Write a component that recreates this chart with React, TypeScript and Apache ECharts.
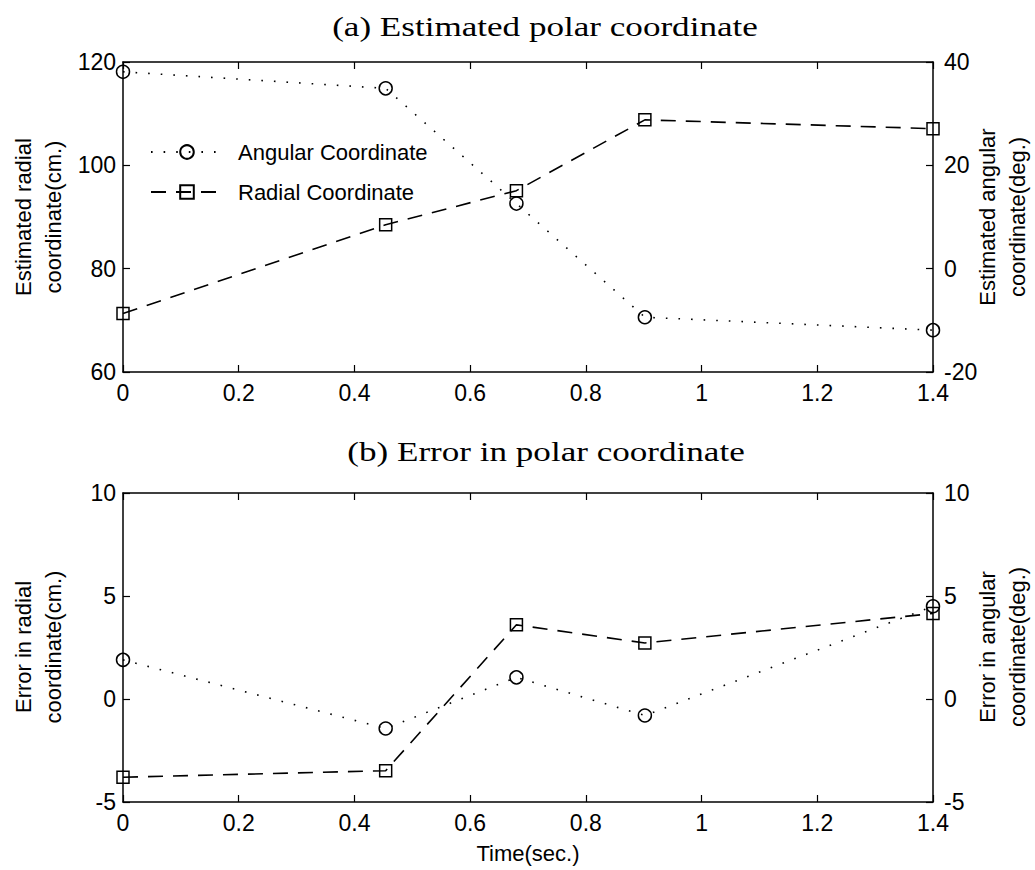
import React, { useEffect, useRef } from "react";
import * as echarts from "echarts";

const times = [0, 0.454, 0.68, 0.902, 1.4];
const radialEst = [71.3, 88.5, 95.1, 108.8, 107.1];
const angularEst = [38.1, 34.9, 12.6, -9.4, -11.9];
const radialErr = [-3.8, -3.48, 3.6, 2.72, 4.15];
const angularErr = [1.9, -1.43, 1.05, -0.8, 4.5];

const xTicks = { min: 0, max: 1.4, interval: 0.2 };
const topLeftTicks = { min: 60, max: 120, interval: 20 };
const topRightTicks = { min: -20, max: 40, interval: 20 };
const botLeftTicks = { min: -5, max: 10, interval: 5 };
const botRightTicks = { min: -5, max: 10, interval: 5 };

const titleA = "(a) Estimated polar coordinate";
const titleB = "(b) Error in polar coordinate";
const seriesNames = ["Angular Coordinate", "Radial Coordinate"];

const SANS = "Liberation Sans, Arial, Helvetica, sans-serif";
const SERIF = "Liberation Serif, Times New Roman, serif";

const pairs = (vals: number[]) => times.map((t, i) => [t, vals[i]]);

const axisLine = { show: true, onZero: false, lineStyle: { color: "#000", width: 1.5 } };
const tick = { show: true, inside: true, length: 7, lineStyle: { color: "#000", width: 1.2 } };
const label = (margin: number) => ({ color: "#000", fontSize: 23, fontFamily: SANS, margin });

function xAxisPair(grid: number) {
  return [
    {
      type: "value", gridIndex: grid, position: "bottom", ...xTicks,
      axisLine, axisTick: tick, axisLabel: label(9), splitLine: { show: false },
    },
    {
      type: "value", gridIndex: grid, position: "top", ...xTicks,
      axisLine, axisTick: tick, axisLabel: { show: false }, splitLine: { show: false },
    },
  ];
}

function yAxisPair(grid: number, l: any, r: any) {
  return [
    {
      type: "value", gridIndex: grid, position: "left", ...l,
      axisLine, axisTick: tick, axisLabel: label(7), splitLine: { show: false },
    },
    {
      type: "value", gridIndex: grid, position: "right", ...r,
      axisLine, axisTick: tick, axisLabel: label(11), splitLine: { show: false },
    },
  ];
}

const angStyle = {
  symbol: "circle",
  symbolSize: 13,
  itemStyle: { color: "rgba(255,255,255,0)", borderColor: "#000", borderWidth: 1.5 },
  lineStyle: { color: "#000", width: 1.6, type: [1.6, 11] },
};
const radStyle = {
  symbol: "rect",
  symbolSize: 12,
  itemStyle: { color: "rgba(255,255,255,0)", borderColor: "#000", borderWidth: 1.5 },
  lineStyle: { color: "#000", width: 1.6, type: [15, 10] },
};

export default function App() {
  const ref = useRef<HTMLDivElement>(null);
  useEffect(() => {
    if (!ref.current) return;
    const chart = echarts.init(ref.current, undefined, { renderer: "svg" });
    const option: any = {
      animation: false,
      backgroundColor: "#fff",
      grid: [
        { left: 123, top: 62, width: 810, height: 310 },
        { left: 123, top: 493, width: 810, height: 309 },
      ],
      legend: {
        data: seriesNames,
        orient: "vertical",
        left: 145,
        top: 133,
        itemWidth: 72,
        itemHeight: 17,
        itemGap: 12,
        textStyle: { color: "#000", fontSize: 22, fontFamily: SANS, lineHeight: 28, padding: [0, 0, 0, 10] },
      },
      xAxis: [...xAxisPair(0), ...xAxisPair(1)],
      yAxis: [
        ...yAxisPair(0, topLeftTicks, topRightTicks),
        ...yAxisPair(1, botLeftTicks, botRightTicks),
      ],
      series: [
        { name: seriesNames[0], type: "line", xAxisIndex: 0, yAxisIndex: 1, data: pairs(angularEst), ...angStyle },
        { name: seriesNames[1], type: "line", xAxisIndex: 0, yAxisIndex: 0, data: pairs(radialEst), ...radStyle },
        { name: seriesNames[0], type: "line", xAxisIndex: 2, yAxisIndex: 3, data: pairs(angularErr), ...angStyle },
        { name: seriesNames[1], type: "line", xAxisIndex: 2, yAxisIndex: 2, data: pairs(radialErr), ...radStyle },
      ],
      graphic: [
        {
          type: "text", x: 545, y: 27, scaleX: 1.3,
          style: { text: titleA, font: `27px ${SERIF}`, fill: "#000", align: "center", verticalAlign: "middle" },
        },
        {
          type: "text", x: 546, y: 452, scaleX: 1.3,
          style: { text: titleB, font: `27px ${SERIF}`, fill: "#000", align: "center", verticalAlign: "middle" },
        },
        {
          type: "text", x: 38, y: 217, rotation: Math.PI / 2,
          style: { text: "Estimated radial\ncoordinate(cm.)", font: `22px ${SANS}`, lineHeight: 30, fill: "#000", align: "center", verticalAlign: "middle" },
        },
        {
          type: "text", x: 1002, y: 217, rotation: Math.PI / 2,
          style: { text: "Estimated angular\ncoordinate(deg.)", font: `22px ${SANS}`, lineHeight: 30, fill: "#000", align: "center", verticalAlign: "middle" },
        },
        {
          type: "text", x: 38, y: 647, rotation: Math.PI / 2,
          style: { text: "Error in radial\ncoordinate(cm.)", font: `22px ${SANS}`, lineHeight: 30, fill: "#000", align: "center", verticalAlign: "middle" },
        },
        {
          type: "text", x: 1002, y: 647, rotation: Math.PI / 2,
          style: { text: "Error in angular\ncoordinate(deg.)", font: `22px ${SANS}`, lineHeight: 30, fill: "#000", align: "center", verticalAlign: "middle" },
        },
        {
          type: "text", x: 528, y: 853,
          style: { text: "Time(sec.)", font: `22px ${SANS}`, fill: "#000", align: "center", verticalAlign: "middle" },
        },
      ],
    };
    chart.setOption(option);
    return () => chart.dispose();
  }, []);
  return (
    <div
      ref={ref}
      style={{ position: "fixed", left: 0, top: 0, width: 1035, height: 870, background: "#fff" }}
    />
  );
}
